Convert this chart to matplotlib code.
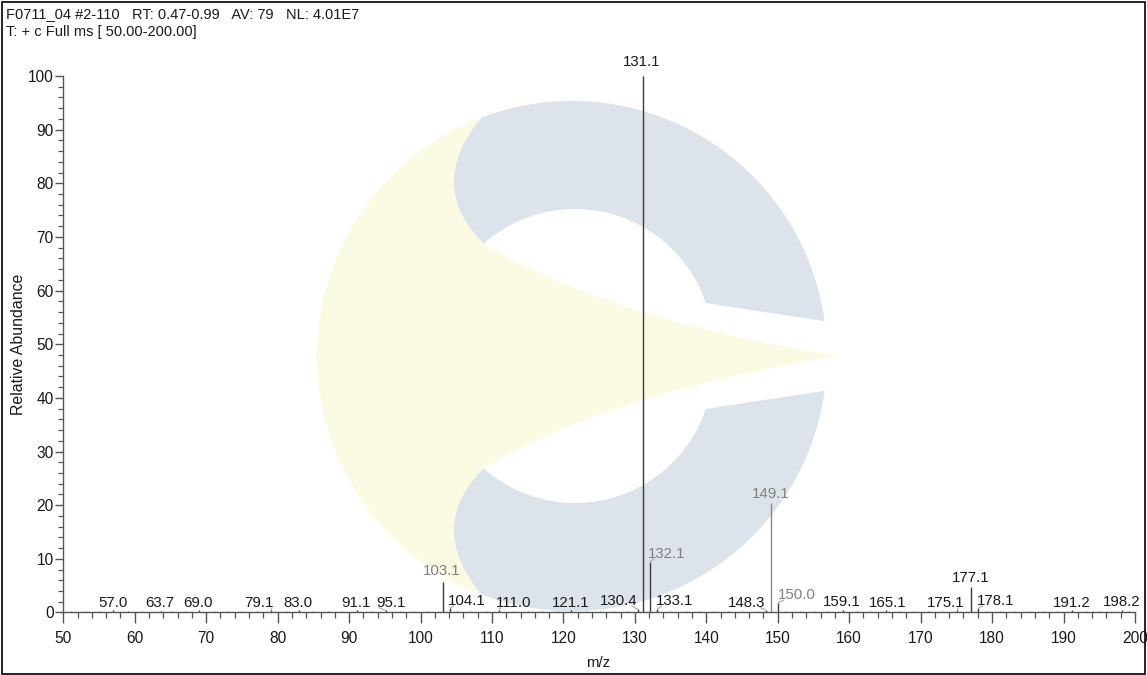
import numpy as np
import matplotlib.pyplot as plt
from matplotlib.patches import Polygon, Rectangle
from matplotlib.ticker import MultipleLocator

FONT = ['Liberation Sans', 'DejaVu Sans']
FS = 10.8

header_1 = 'F0711_04 #2-110   RT: 0.47-0.99   AV: 79   NL: 4.01E7'
header_2 = 'T: + c Full ms [ 50.00-200.00]'

# labelled peaks (m/z, relative abundance)
peak_mz = [57.0, 63.7, 69.0, 79.1, 83.0, 91.1, 95.1, 103.1, 104.1, 111.0,
           121.1, 130.4, 131.1, 132.1, 133.1, 148.3, 149.1, 150.0, 159.1,
           165.1, 175.1, 177.1, 178.1, 191.2, 198.2]
peak_int = [0.4, 0.3, 0.4, 0.4, 0.4, 0.4, 0.4, 5.7, 0.8, 0.5,
            0.4, 0.6, 100.0, 9.5, 0.6, 0.5, 20.4, 1.8, 0.4,
            0.4, 0.4, 4.8, 0.8, 0.4, 0.4]
# where the software put each label (x in m/z, y = baseline in %)
label_x = [57.0, 63.5, 68.9, 77.4, 82.8, 91.0, 95.9, 103.0, 106.5, 113.1,
           121.0, 127.7, 131.0, 134.5, 135.6, 145.7, 149.0, 152.7, 159.0,
           165.4, 173.5, 177.0, 180.5, 191.1, 198.1]
label_y = [1.1, 1.1, 1.1, 1.1, 1.1, 1.1, 1.1, 7.0, 1.4, 1.1,
           1.1, 1.4, 101.8, 10.2, 1.4, 1.1, 21.4, 2.5, 1.3,
           1.1, 1.1, 5.75, 1.4, 1.1, 1.3]
grey_peaks = [103.1, 132.1, 149.1, 150.0]

# unlabelled noise peaks along the baseline
noise_mz = [51.1, 53.0, 55.1, 59.0, 61.0, 65.1, 67.0, 71.1, 73.0, 75.0,
            77.1, 81.1, 85.0, 87.1, 89.0, 93.1, 97.1, 99.0, 101.1, 105.1,
            107.1, 109.1, 113.1, 115.0, 117.1, 119.1, 123.1, 125.1, 127.1,
            129.1, 135.1, 137.1, 139.1, 141.1, 143.1, 145.1, 147.1, 151.1,
            153.1, 155.1, 157.1, 161.1, 163.1, 167.1, 169.1, 171.1, 173.1,
            179.1, 181.1, 183.1, 185.1, 187.1, 189.1, 193.1, 194.1, 195.1,
            196.1, 199.1]
noise_int = [0.2, 0.3, 0.2, 0.3, 0.2, 0.3, 0.2, 0.3, 0.2, 0.3,
             0.2, 0.3, 0.2, 0.3, 0.2, 0.3, 0.2, 0.3, 0.2, 0.3,
             0.2, 0.3, 0.2, 0.3, 0.2, 0.3, 0.2, 0.3, 0.2,
             0.3, 0.2, 0.3, 0.2, 0.3, 0.2, 0.3, 0.2, 0.3,
             0.2, 0.3, 0.2, 0.3, 0.2, 0.3, 0.2, 0.3, 0.2,
             0.3, 0.2, 0.3, 0.2, 0.3, 0.2, 0.3, 0.2, 0.3,
             0.2, 0.3]


def arc(cx, cy, r, a0, a1, n=80):
    a = np.radians(np.linspace(a0, a1, n))
    return np.column_stack([cx + r * np.cos(a), cy - r * np.sin(a)])


def bezier(p0, p1, p2, n=40):
    t = np.linspace(0, 1, n)[:, None]
    p0, p1, p2 = map(np.asarray, (p0, p1, p2))
    return (1 - t) ** 2 * p0 + 2 * (1 - t) * t * p1 + t ** 2 * p2


def draw_watermark(fig):
    # faint logo behind the spectrum, in image pixel coordinates
    wm = fig.add_axes([0, 0, 1, 1], zorder=0)
    wm.set_xlim(0, 1147)
    wm.set_ylim(675, 0)
    wm.axis('off')
    yellow = '#fbfbe3'
    blue = '#dde3ea'
    cy = 356

    wm.add_patch(Polygon(arc(572, cy, 255, 0, 360, 200), color=yellow, lw=0))
    wm.add_patch(Polygon(arc(575, cy, 150, 0, 360, 200), color='white', lw=0))
    gap = [(640, 300), (706, 303), (835, 318), (835, 394), (706, 409), (640, 412)]
    wm.add_patch(Polygon(gap, color='white', lw=0))

    # yellow horn pointing right
    upper = np.vstack([[(400, 200)],
                       bezier((484, 244), (610, 320), (845, 357), 60)])
    lower = upper[::-1].copy()
    lower[:, 1] = 2 * cy - lower[:, 1]
    wm.add_patch(Polygon(np.vstack([upper, lower[1:]]), color=yellow, lw=0))

    top = np.vstack([
        arc(572, cy, 255, 7.9, 110.6),
        bezier((482, 117), (425, 185), (484, 244)),
        arc(575, 347, 138, 131.5, 18.6),
        [(823, 321)],
    ])
    wm.add_patch(Polygon(top, color=blue, lw=0))
    bottom = top.copy()
    bottom[:, 1] = 2 * cy - bottom[:, 1]
    wm.add_patch(Polygon(bottom, color=blue, lw=0))


def draw_spectrum(ax):
    ax.vlines(noise_mz, 0, noise_int, colors='#777777', lw=0.8)
    for mz, h, lx, ly in zip(peak_mz, peak_int, label_x, label_y):
        grey = mz in grey_peaks
        line_c = '#8a8a8a' if mz == 149.1 else '#3a3a3a'
        ax.vlines(mz, 0, h, colors=line_c, lw=1.0)
        ax.text(lx, ly, f'{mz:.1f}', ha='center', va='baseline', fontsize=FS,
                family=FONT, color='#808080' if grey else '#1a1a1a', clip_on=False)
        if abs(lx - mz) > 0.6:
            side = np.sign(lx - mz)
            ax.plot([mz, lx - side * 1.8], [h, ly - 0.15], color='#a8a8a8',
                    lw=0.8, solid_capstyle='butt')


def style_axes(ax):
    ax.set_xlim(50, 200)
    ax.set_ylim(0, 100)
    ax.set_facecolor('none')
    for s in ('top', 'right'):
        ax.spines[s].set_visible(False)
    ax.spines['left'].set_bounds(0, 100)
    ax.spines['bottom'].set_bounds(50, 200)
    for s in ('left', 'bottom'):
        ax.spines[s].set_color('#555555')
        ax.spines[s].set_linewidth(1.0)
    ax.xaxis.set_major_locator(MultipleLocator(10))
    ax.xaxis.set_minor_locator(MultipleLocator(2))
    ax.yaxis.set_major_locator(MultipleLocator(10))
    ax.yaxis.set_minor_locator(MultipleLocator(2))
    ax.tick_params(axis='x', which='major', length=8, width=1.0, color='#555555', pad=5)
    ax.tick_params(axis='x', which='minor', length=4.3, width=0.9, color='#555555')
    ax.tick_params(axis='y', which='major', length=6, width=1.0, color='#555555', pad=1)
    ax.tick_params(axis='y', which='minor', length=3.5, width=0.9, color='#555555')
    for lab in ax.get_xticklabels() + ax.get_yticklabels():
        lab.set_family(FONT)
        lab.set_fontsize(FS + 0.4)
        lab.set_color('#1a1a1a')
    ax.set_xlabel('m/z', family=FONT, fontsize=FS, color='#1a1a1a')
    ax.xaxis.set_label_coords(0.499, -0.082)
    ax.set_ylabel('Relative Abundance', family=FONT, fontsize=FS + 0.6, color='#1a1a1a')
    ax.yaxis.set_label_coords(-0.035, 0.5)


def main():
    fig = plt.figure(figsize=(11.47, 6.75), dpi=100)
    draw_watermark(fig)
    ax = fig.add_axes([0.0552, 0.0926, 0.9343, 0.7948], zorder=1)
    draw_spectrum(ax)
    style_axes(ax)

    fig.text(0.005, 0.979, header_1, family=FONT, fontsize=FS - 0.3, va='center', color='#1a1a1a')
    fig.text(0.005, 0.952, header_2, family=FONT, fontsize=FS - 0.3, va='center', color='#1a1a1a')
    fig.patches.append(Rectangle((0.002, 0.002), 0.996, 0.995, transform=fig.transFigure,
                                 fill=False, lw=1.2, edgecolor='black'))
    fig.savefig('out.png', dpi=100)


if __name__ == '__main__':
    main()
